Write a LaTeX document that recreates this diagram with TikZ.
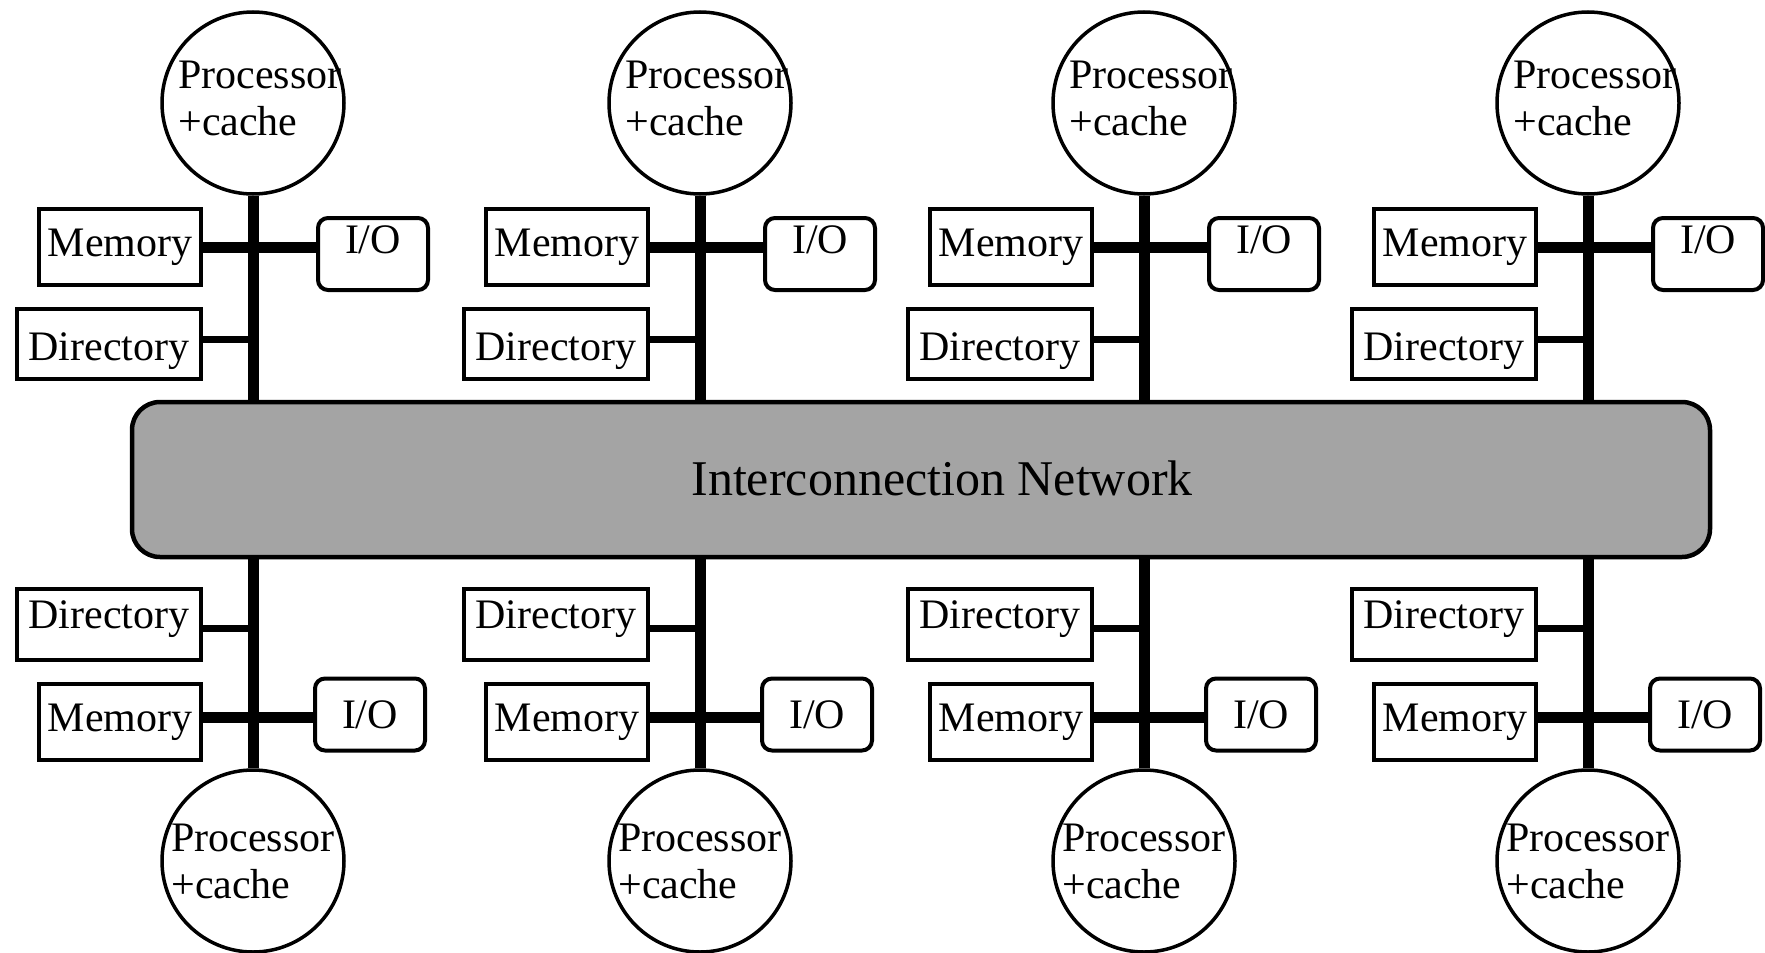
\documentclass[tikz,border=0pt]{standalone}
\usepackage{fontspec}
\setmainfont{Liberation Serif}
\definecolor{netgray}{RGB}{164,164,164}
\begin{document}
\begin{tikzpicture}[x=1pt,y=-1pt,
  box/.style={draw, line width=4pt, rectangle, inner sep=0pt, font=\fontsize{42}{46}\selectfont},
  membox/.style={box, minimum width=162pt, minimum height=76pt},
  dirbox/.style={box, minimum width=184pt, minimum height=70pt},
  iobox/.style={box, rounded corners=10pt, minimum width=110pt, minimum height=72pt},
  proc/.style={draw, circle, line width=3.5pt, minimum size=182pt, inner sep=0pt},
  proctext/.style={align=left, font=\fontsize{42}{47}\selectfont, inner sep=0pt},
  netbox/.style={draw, line width=4.5pt, fill=netgray, rounded corners=28pt, minimum width=1578pt, minimum height=155pt, inner sep=0pt},
  bus/.style={line width=11pt},
  memlink/.style={line width=11pt},
  dirlink/.style={line width=7pt}]
\useasboundingbox (0,0) rectangle (1765,953);
\fill[white] (0,0) rectangle (1765,953);

\node[netbox] (net) at (921,479.5) {};
\node[font=\fontsize{50}{55}\selectfont, inner sep=0pt] (nettext) at (942,478) {Interconnection Network};

\foreach \X/\i in {253/1,700/2,1144/3,1588/4}{
  % top cluster
  \node[proc, label={[proctext, xshift=7pt, yshift=5pt]center:Processor\\+cache}] (pt\i) at (\X,103) {};
  \node[membox] (mt\i) at (\X-133,247) {Memory};
  \node[iobox, text height=35pt, text depth=37pt] (it\i) at (\X+120,254) {I/O};
  \node[dirbox, text height=51pt, text depth=19pt] (dt\i) at (\X-144,344) {Directory};
  \draw[bus] (pt\i.south) -- (pt\i.south |- net.north);
  \draw[memlink] (mt\i.east) -- (mt\i.east -| it\i.west);
  \draw[dirlink] ([yshift=5pt]dt\i.east) -- ([yshift=5pt]dt\i.east -| pt\i.south);
  % bottom cluster
  \node[proc, label={[proctext]center:Processor\\+cache}] (pb\i) at (\X,861) {};
  \node[dirbox, text height=39pt, text depth=32pt] (db\i) at (\X-144,624.5) {Directory};
  \node[membox] (mb\i) at (\X-133,722) {Memory};
  \node[iobox] (ib\i) at (\X+117,714.5) {I/O};
  \draw[bus] (net.south -| pb\i.north) -- (pb\i.north);
  \draw[memlink] ([yshift=5pt]mb\i.east) -- ([yshift=5pt]mb\i.east -| ib\i.west);
  \draw[dirlink] ([yshift=-3.5pt]db\i.east) -- ([yshift=-3.5pt]db\i.east -| pb\i.north);
}
\end{tikzpicture}
\end{document}
